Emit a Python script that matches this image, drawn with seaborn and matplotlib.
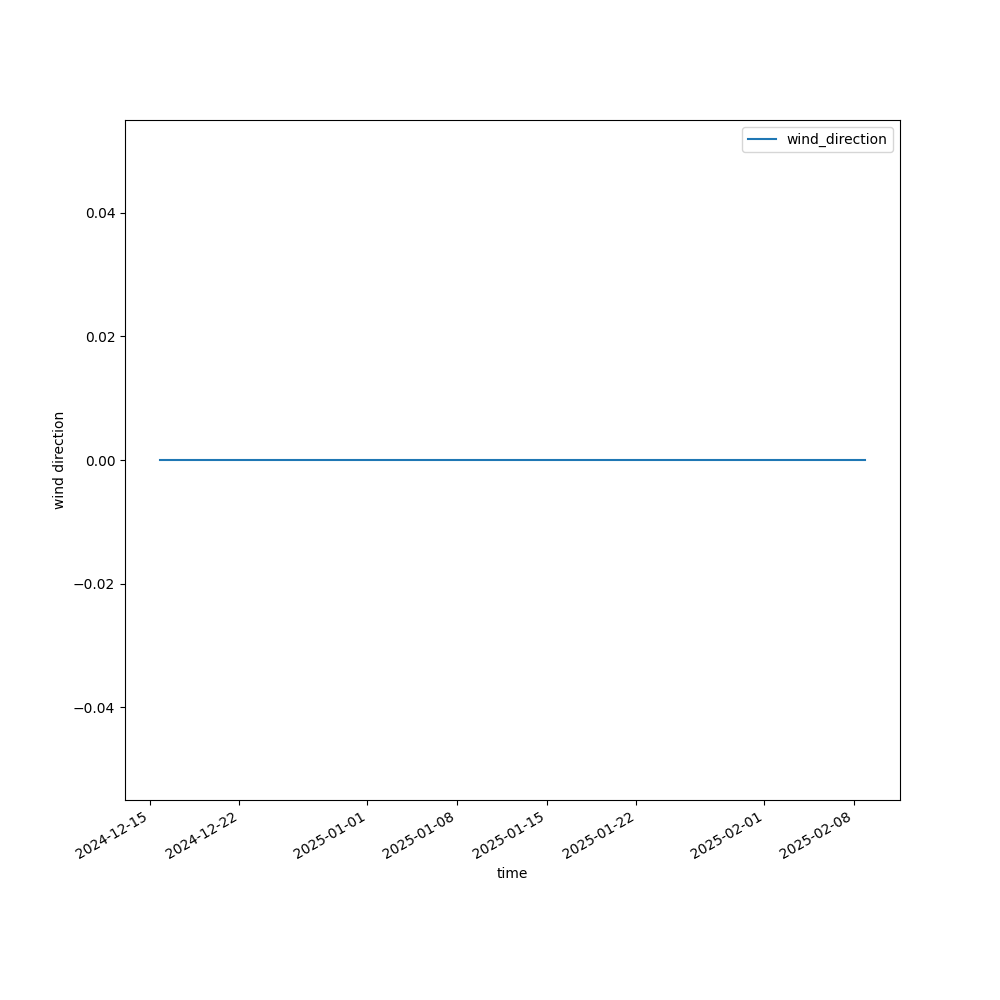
import pandas as pd
import seaborn as sns
import matplotlib.pyplot as plt

# wind direction readings (sensor reported a constant 0 over the whole period)
TIMES = [
    "2024-12-15 20:00", "2024-12-22 20:00", "2024-12-29 20:00",
    "2025-01-05 20:00", "2025-01-12 20:00", "2025-01-19 20:00",
    "2025-01-26 20:00", "2025-02-02 20:00", "2025-02-08 20:00",
]
WIND_DIRECTION = [0.0, 0.0, 0.0, 0.0, 0.0, 0.0, 0.0, 0.0, 0.0]

df = pd.DataFrame({"time": pd.to_datetime(TIMES), "wind_direction": WIND_DIRECTION})

fig, ax = plt.subplots(figsize=(10, 10), dpi=100)
sns.lineplot(data=df, x="time", y="wind_direction", ax=ax, label="wind_direction")
ax.set_xlabel("time")
ax.set_ylabel("wind direction")
ax.legend(loc="upper right")
fig.autofmt_xdate()
plt.savefig("out.png")
